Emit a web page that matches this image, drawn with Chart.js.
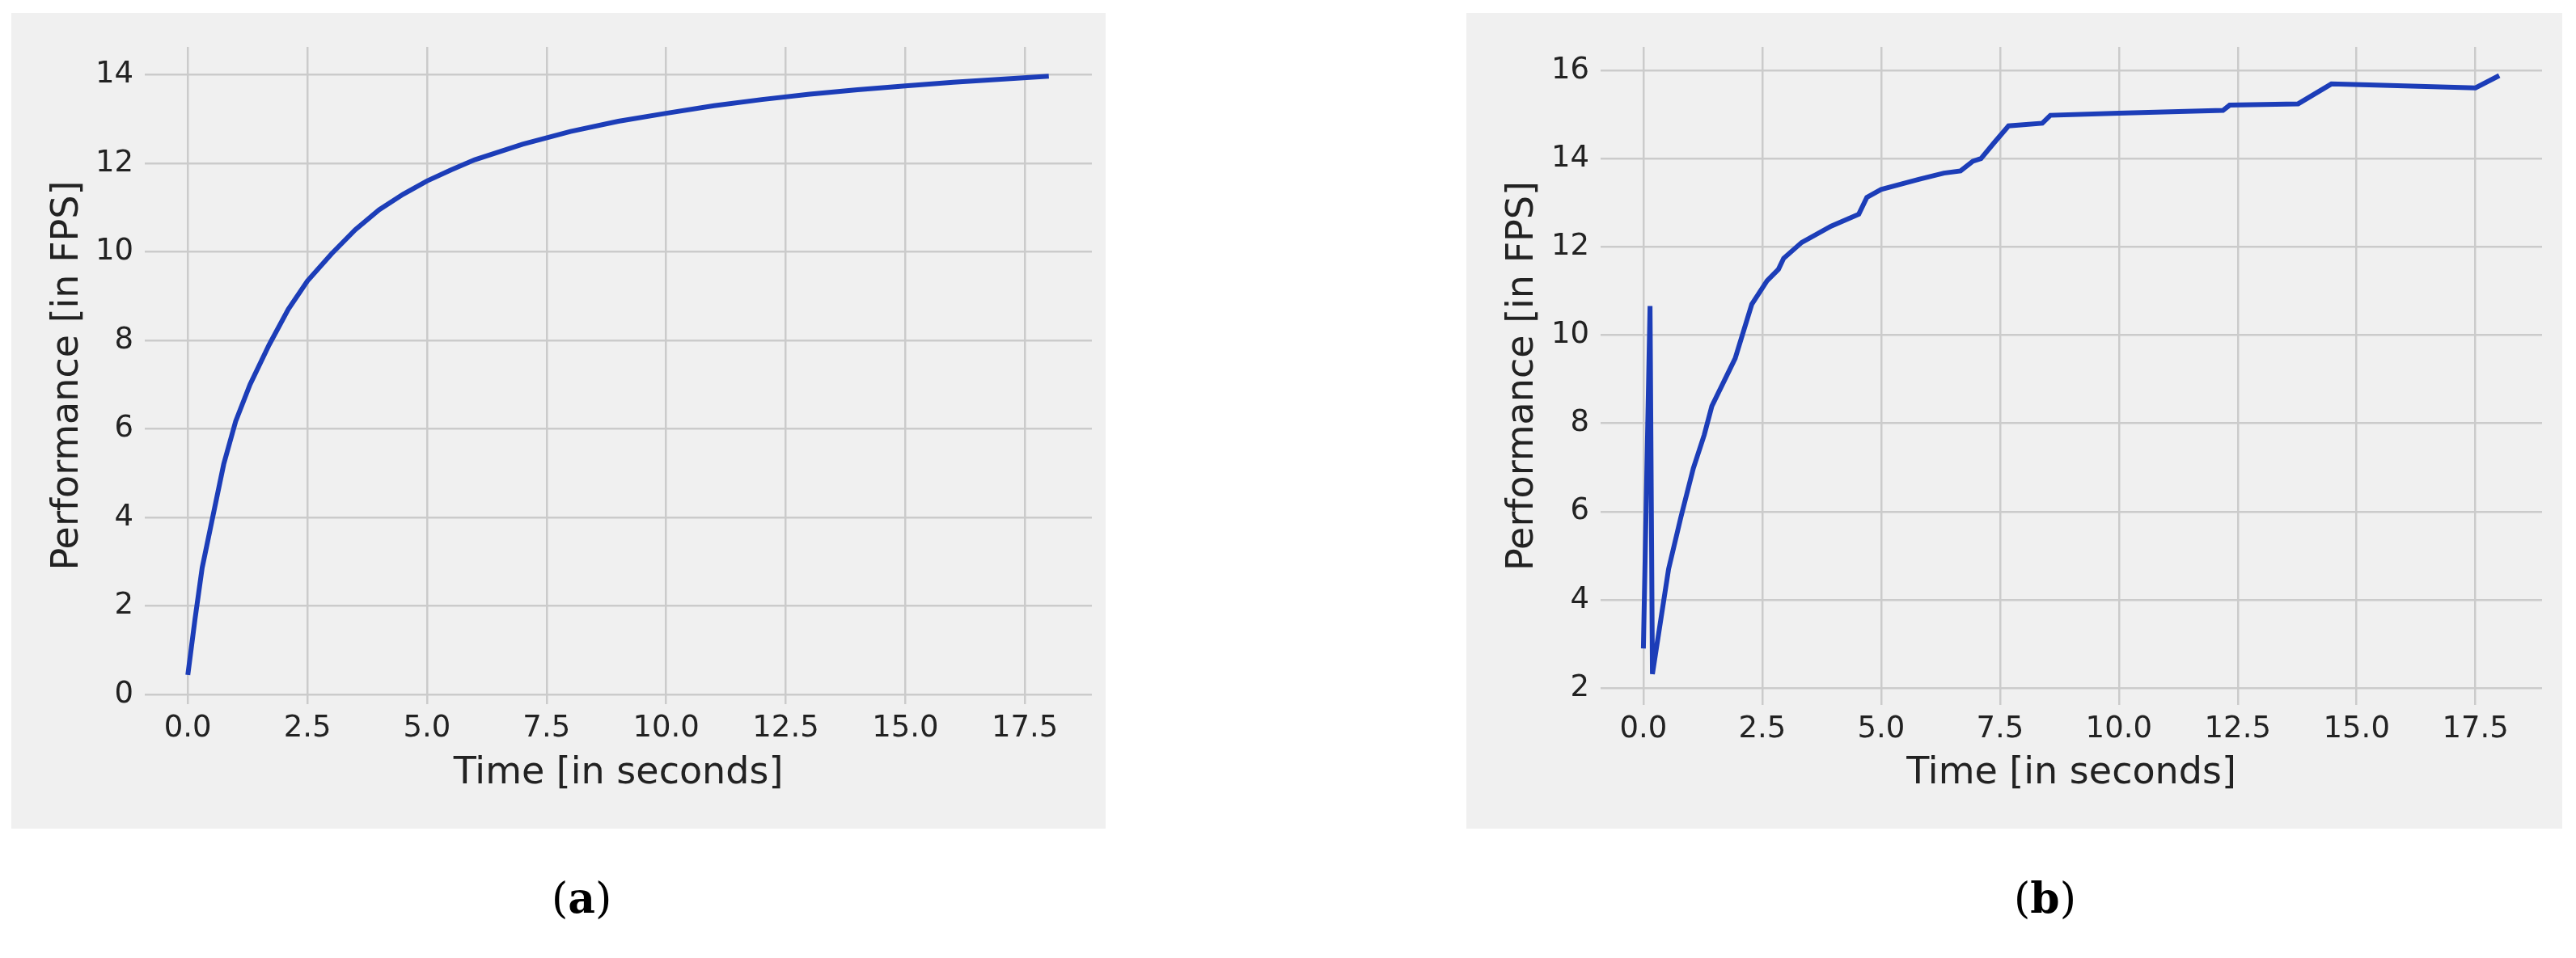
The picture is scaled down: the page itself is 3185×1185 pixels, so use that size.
<!DOCTYPE html>
<html>
<head>
<meta charset="utf-8">
<script src="https://cdn.jsdelivr.net/npm/chart.js@4"></script>
<style>
  body { margin: 0; background: #fff; width: 3185px; height: 1185px; position: relative; overflow: hidden; }
  .panel { position: absolute; top: 16px; height: 1009px; }
  .cap { position: absolute; top: 1080px; font-family: "DejaVu Serif", serif; font-size: 52px; color: #000; }
</style>
</head>
<body>
<div class="panel" style="left:14px;width:1353px"><canvas id="chartA"></canvas></div>
<div class="panel" style="left:1813px;width:1355px"><canvas id="chartB"></canvas></div>
<div class="cap" style="left:682px">(<b>a</b>)</div>
<div class="cap" style="left:2490px">(<b>b</b>)</div>
<script>
Chart.defaults.font.family = '"DejaVu Sans", sans-serif';
Chart.defaults.color = '#222';

// panel (a)
var timeA = [0, 0.15, 0.3, 0.5, 0.75, 1, 1.3, 1.7, 2.1, 2.5, 3, 3.5, 4, 4.5, 5, 5.5, 6, 7, 8, 9, 10, 11, 12, 13, 14, 15, 16, 17, 18];
var fpsA = [0.44, 1.7, 2.86, 3.9, 5.2, 6.17, 7.0, 7.9, 8.7, 9.34, 9.95, 10.5, 10.95, 11.3, 11.6, 11.85, 12.08, 12.43, 12.72, 12.95, 13.13, 13.3, 13.44, 13.56, 13.66, 13.75, 13.83, 13.9, 13.97];

// panel (b)
var timeB = [0, 0.14, 0.19, 0.53, 0.79, 1.05, 1.28, 1.44, 1.93, 2.28, 2.6, 2.84, 2.95, 3.33, 3.95, 4.53, 4.7, 5.0, 5.79, 6.32, 6.67, 6.93, 7.1, 7.37, 7.68, 8.39, 8.56, 10.0, 12.19, 12.33, 13.77, 14.47, 15.26, 17.5, 18];
var fpsB = [2.9, 10.66, 2.32, 4.7, 5.88, 6.98, 7.74, 8.39, 9.47, 10.7, 11.23, 11.49, 11.74, 12.1, 12.47, 12.74, 13.12, 13.3, 13.53, 13.67, 13.72, 13.94, 14.0, 14.35, 14.74, 14.8, 14.98, 15.03, 15.09, 15.21, 15.24, 15.69, 15.67, 15.6, 15.88];

var xTicks = [0, 2.5, 5, 7.5, 10, 12.5, 15, 17.5];
var yTicksA = [0, 2, 4, 6, 8, 10, 12, 14];
var yTicksB = [2, 4, 6, 8, 10, 12, 14, 16];

var bgPlugin = {
  id: 'bg',
  beforeDraw: function(chart) {
    var c = chart.ctx;
    c.save();
    c.fillStyle = '#f0f0f0';
    c.fillRect(0, 0, chart.width, chart.height);
    c.restore();
  }
};

function makeChart(id, xs, ys, yTicks, yMin, yMax, pad, yWidth, xHeight) {
  var pts = xs.map(function(x, i) { return { x: x, y: ys[i] }; });
  return new Chart(document.getElementById(id), {
    type: 'scatter',
    data: {
      datasets: [{
        data: pts,
        showLine: true,
        borderColor: '#1c3db8',
        borderWidth: 6,
        pointRadius: 0,
        tension: 0
      }]
    },
    plugins: [bgPlugin],
    options: {
      responsive: true,
      maintainAspectRatio: false,
      animation: false,
      layout: { padding: pad },
      plugins: { legend: { display: false }, tooltip: { enabled: false } },
      scales: {
        x: {
          type: 'linear',
          min: -0.9,
          max: 18.9,
          afterBuildTicks: function(s) { s.ticks = xTicks.map(function(v) { return { value: v }; }); },
          afterFit: function(s) { s.height = xHeight; },
          ticks: { font: { size: 37 }, padding: 8, callback: function(v) { return v.toFixed(1); } },
          grid: { color: '#cbcbcb', lineWidth: 2.5, drawTicks: false },
          border: { display: false },
          title: { display: true, text: 'Time [in seconds]', font: { size: 46 }, padding: { top: 0 } }
        },
        y: {
          min: yMin,
          max: yMax,
          afterBuildTicks: function(s) { s.ticks = yTicks.map(function(v) { return { value: v }; }); },
          afterFit: function(s) { s.width = yWidth; },
          ticks: { font: { size: 37 }, padding: 14 },
          grid: { color: '#cbcbcb', lineWidth: 2.5, drawTicks: false },
          border: { display: false },
          title: { display: true, text: 'Performance [in FPS]', font: { size: 46 }, padding: { bottom: 4 } }
        }
      }
    }
  });
}

makeChart('chartA', timeA, fpsA, yTicksA, -0.22, 14.63, { left: 38, right: 17, top: 42, bottom: 36 }, 127, 118);
makeChart('chartB', timeB, fpsB, yTicksB, 1.62, 16.53, { left: 38, right: 25, top: 42, bottom: 36 }, 128, 117);
</script>
</body>
</html>
